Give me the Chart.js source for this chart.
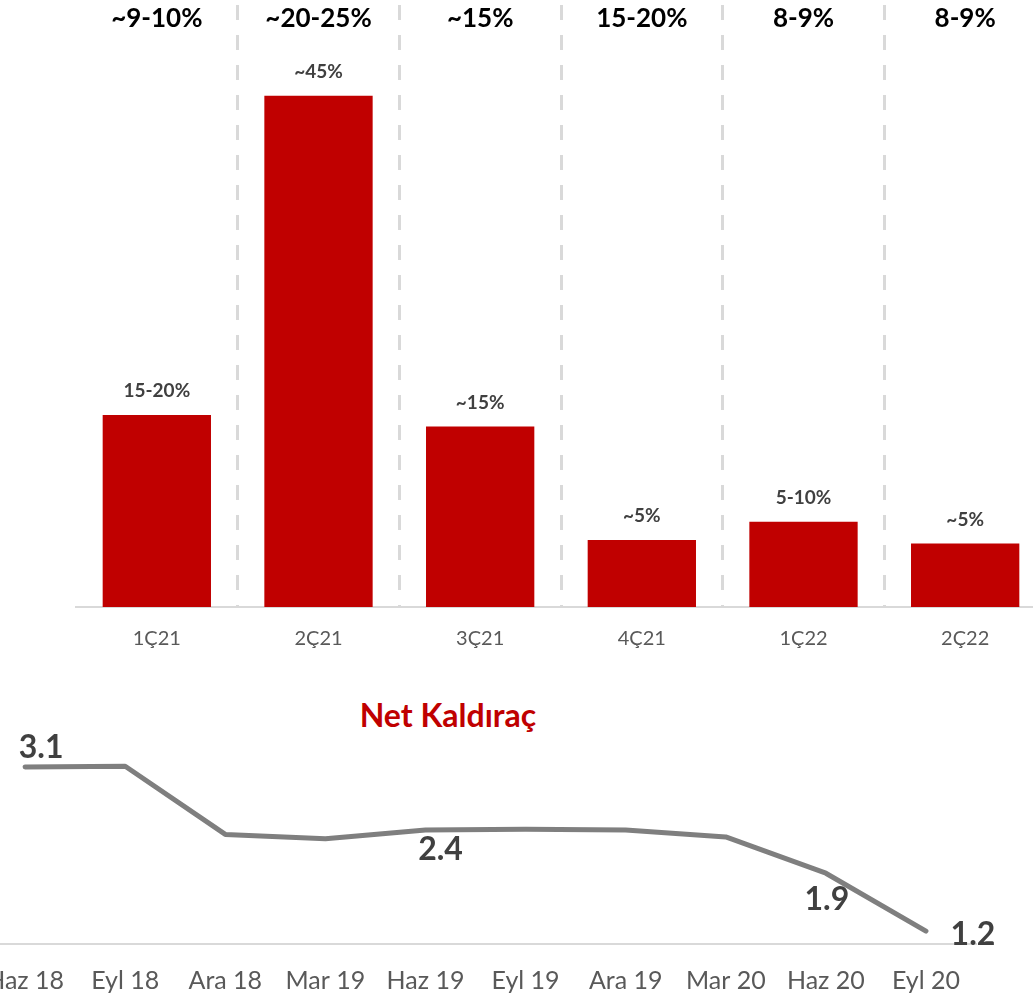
<!DOCTYPE html>
<html>
<head>
<meta charset="utf-8">
<script src="https://cdn.jsdelivr.net/npm/chart.js@4/dist/chart.umd.min.js"></script>
<style>
  html, body { margin: 0; padding: 0; background: #fff; overflow: hidden; width: 1033px; height: 996px; }
  #bar_chart { position: absolute; left: 0; top: 0; }
  #line_chart { position: absolute; left: -36px; top: 690px; }
  #line_title { position: absolute; left: 248px; top: 697px; width: 400px; text-align: center;
    font: bold 32px Lato, sans-serif; line-height: 36px; color: #c00000; }
</style>
</head>
<body>
<canvas id="bar_chart" width="1050" height="670"></canvas>
<div id="line_title">Net Kaldıraç</div>
<canvas id="line_chart" width="1076" height="306"></canvas>
<script>
// bar chart data
const quarters = ['1Ç21', '2Ç21', '3Ç21', '4Ç21', '1Ç22', '2Ç22'];
const quarterValues = [16.9, 45, 15.9, 5.9, 7.5, 5.6];
const quarterLabels = ['15-20%', '~45%', '~15%', '~5%', '5-10%', '~5%'];
const quarterHeaders = ['~9-10%', '~20-25%', '~15%', '15-20%', '8-9%', '8-9%'];

// net leverage data
const periods = ['Haz 18', 'Eyl 18', 'Ara 18', 'Mar 19', 'Haz 19', 'Eyl 19', 'Ara 19', 'Mar 20', 'Haz 20', 'Eyl 20'];
const leverage = [3.10, 3.11, 2.32, 2.27, 2.37, 2.38, 2.37, 2.29, 1.87, 1.20];
const shownLabels = [0, 4, 8, 9];

const FONT = 'Lato, sans-serif';

// where each shown leverage label sits relative to its point
const labelOffsets = { 0: [16, -19], 4: [15, 20], 8: [1, 26], 9: [47, 4] };

const barLabelPlugin = {
    id: 'barLabels',
    afterDatasetsDraw(chart) {
        let ctx = chart.ctx;
        let meta = chart.getDatasetMeta(0);
        let xs = chart.scales.x;
        ctx.save();
        ctx.textAlign = 'center';
        ctx.textBaseline = 'middle';
        ctx.font = 'bold 19px ' + FONT;
        ctx.fillStyle = '#404040';
        meta.data.forEach((bar, i) => {
            ctx.fillText(quarterLabels[i], bar.x, bar.y - 24);
        });
        ctx.font = 'bold 26px ' + FONT;
        ctx.fillStyle = '#000000';
        quarterHeaders.forEach((t, i) => {
            ctx.fillText(t, xs.getPixelForValue(i), chart.chartArea.top + 14);
        });
        ctx.restore();
    }
};

const lineLabelPlugin = {
    id: 'lineLabels',
    afterDatasetsDraw(chart) {
        let ctx = chart.ctx;
        let meta = chart.getDatasetMeta(0);
        ctx.save();
        ctx.textAlign = 'center';
        ctx.textBaseline = 'middle';
        ctx.font = 'bold 32px ' + FONT;
        ctx.fillStyle = '#404040';
        shownLabels.forEach(i => {
            let pt = meta.data[i];
            let off = labelOffsets[i];
            ctx.fillText(leverage[i].toFixed(1), pt.x + off[0], pt.y + off[1]);
        });
        ctx.restore();
    }
};

function load_bars() {
    let chart = document.getElementById('bar_chart');
    let data = {
        labels: quarters,
        datasets: [{
            data: quarterValues,
            backgroundColor: '#c00000',
            borderWidth: 0,
            categoryPercentage: 1,
            barPercentage: 0.67
        }]
    };
    let config = {
        type: 'bar',
        data,
        options: {
            responsive: false,
            animation: false,
            layout: { padding: { left: 76, right: 4, top: 5, bottom: 0 } },
            plugins: { legend: { display: false }, tooltip: { enabled: false } },
            scales: {
                x: {
                    offset: true,
                    grid: {
                        offset: true,
                        drawTicks: false,
                        lineWidth: 3,
                        color: (c) => (c.index === 0 || c.index === quarters.length) ? 'rgba(0,0,0,0)' : '#d9d9d9'
                    },
                    border: { display: true, color: '#d9d9d9', width: 2, dash: [15, 15] },
                    ticks: { color: '#595959', font: { family: FONT, size: 20 }, padding: 20 },
                    afterFit: (scale) => { scale.height = 63; }
                },
                y: { display: false, min: 0, max: 53 }
            }
        },
        plugins: [barLabelPlugin]
    };
    new Chart(chart, config);
}

function load_line() {
    let chart = document.getElementById('line_chart');
    let data = {
        labels: periods,
        datasets: [{
            data: leverage,
            borderColor: '#7f7f7f',
            borderWidth: 5,
            borderCapStyle: 'round',
            borderJoinStyle: 'round',
            pointRadius: 0,
            tension: 0,
            fill: false
        }]
    };
    let config = {
        type: 'line',
        data,
        options: {
            responsive: false,
            animation: false,
            layout: { padding: { left: 4, right: 64, top: 10, bottom: 0 } },
            plugins: { legend: { display: false }, tooltip: { enabled: false } },
            scales: {
                x: {
                    offset: true,
                    grid: { display: false, drawTicks: false },
                    border: { display: true, color: '#d9d9d9', width: 2 },
                    ticks: { color: '#595959', font: { family: FONT, size: 25 }, padding: 22, maxRotation: 0, autoSkip: false },
                    afterFit: (scale) => { scale.height = 52; }
                },
                y: { display: false, min: 1.05, max: 3.877 }
            }
        },
        plugins: [lineLabelPlugin]
    };
    new Chart(chart, config);
}

load_bars();
load_line();
</script>
</body>
</html>
